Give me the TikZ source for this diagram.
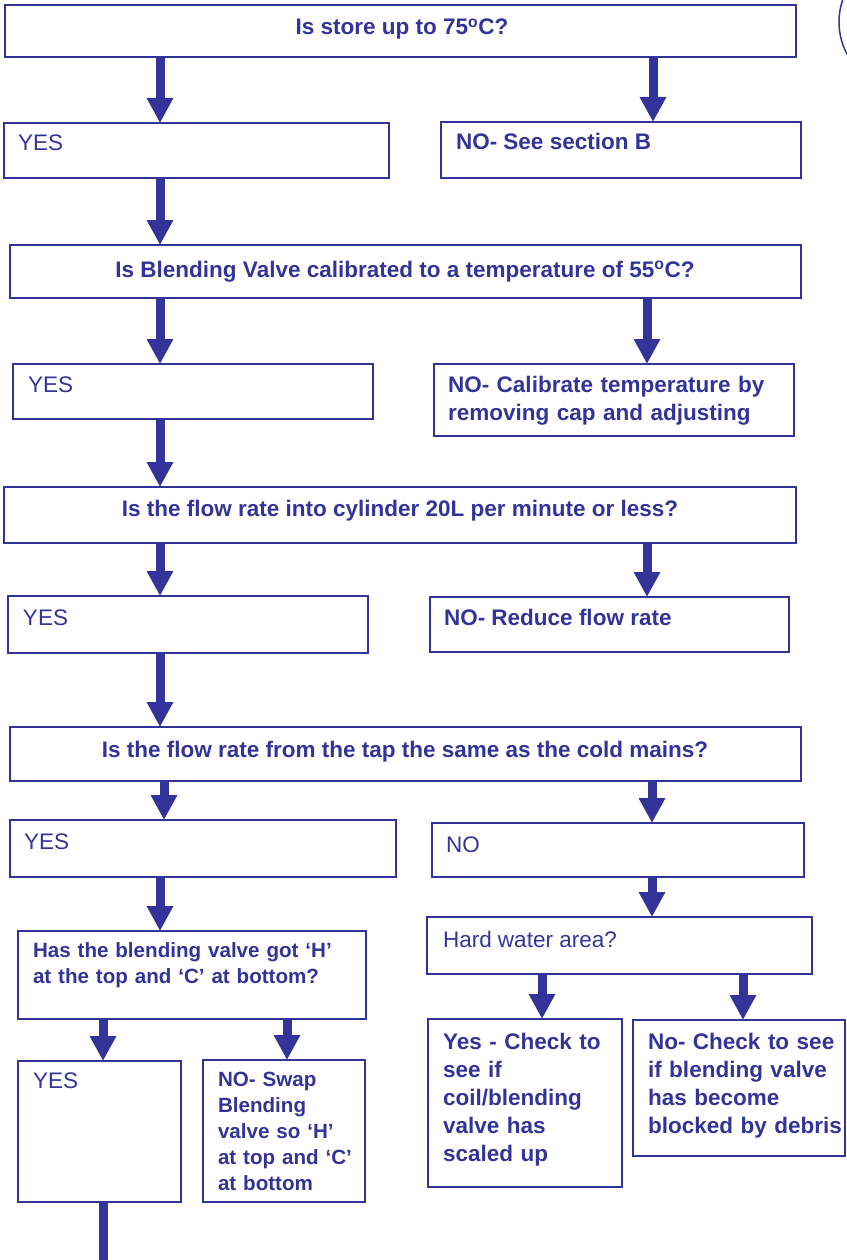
\documentclass[tikz,border=0pt]{standalone}
\usepackage{fontspec}
\setmainfont{Liberation Sans}
\usetikzlibrary{arrows.meta,calc}
\definecolor{dblue}{HTML}{333399}
\newcommand\myfs{\fontsize{22.5}{28}\selectfont}
\newcommand\fbx[5]{\node[box, minimum width={(#4-#2)*1pt}, minimum height={(#5-#3)*1pt}] (#1) at (#2,#3) {};}
\begin{document}
\begin{tikzpicture}[x=1pt,y=-1pt,
  box/.style={draw=dblue, line width=1.2pt, inner sep=0pt, outer sep=0pt, anchor=north west},
  txt/.style={text=dblue, inner sep=0pt, outer sep=0pt, anchor=base west, font=\myfs},
  btxt/.style={txt, font=\myfs\bfseries},
  ctxt/.style={txt, anchor=base, font=\myfs\bfseries},
  mtxt/.style={btxt, align=left, text width=#1},
  arr/.style={draw=dblue, line width=9pt, -{Triangle[length=25pt,width=25pt]}},
  shaft/.style={draw=dblue, line width=9pt}]
\useasboundingbox (0,0) rectangle (846,1260);
% boxes
\fbx{b1}{5}{5}{796}{57}
\fbx{yes1}{4}{123}{389}{178}
\fbx{no1}{441}{122}{801}{178}
\fbx{b2}{10}{245}{801}{298}
\fbx{yes2}{13}{364}{373}{419}
\fbx{no2}{434}{364}{794}{436}
\fbx{b3}{4}{487}{796}{543}
\fbx{yes3}{8}{596}{368}{653}
\fbx{no3}{430}{597}{789}{652}
\fbx{b4}{10}{727}{801}{781}
\fbx{yes4}{10}{820}{396}{877}
\fbx{no4}{432}{823}{804}{877}
\fbx{q5}{18}{931}{366}{1019}
\fbx{hard}{427}{917}{812}{974}
\fbx{yes5}{18}{1061}{181}{1202}
\fbx{no5}{203}{1060}{365}{1202}
\fbx{ycheck}{428}{1019}{622}{1187}
\fbx{ncheck}{633}{1020}{845}{1156}
% texts
\node[ctxt] (t1) at (402,35) {Is store up to 75\textsuperscript{o}C?};
\node[txt] (t1y) at (18,151) {YES};
\node[btxt] (t1n) at (456,150) {NO- See section B};
\node[ctxt] (t2) at (405,277) {Is Blending Valve calibrated to a temperature of 55\textsuperscript{o}C?};
\node[txt] (t2y) at (28,392) {YES};
\node[mtxt=350pt] (t2n) at (448,392) {NO- Calibrate temperature by\\removing cap and adjusting};
\node[ctxt] (t3) at (400,516) {Is the flow rate into cylinder 20L per minute or less?};
\node[txt] (t3y) at (23,625) {YES};
\node[btxt] (t3n) at (444,625) {NO- Reduce flow rate};
\node[ctxt] (t4) at (405,757) {Is the flow rate from the tap the same as the cold mains?};
\node[txt] (t4y) at (24,849) {YES};
\node[txt] (t4n) at (446,852) {NO};
\node[mtxt=340pt, font=\fontsize{20.6}{26}\selectfont\bfseries] (t5) at (33,957) {Has the blending valve got ‘H’\\at the top and ‘C’ at bottom?};
\node[txt] (th) at (443,947) {Hard water area?};
\node[txt] (t5y) at (33,1088) {YES};
\node[mtxt=160pt, font=\fontsize{20.6}{26}\selectfont\bfseries] (t5n) at (218,1086) {NO- Swap\\Blending\\valve so ‘H’\\at top and ‘C’\\at bottom};
\node[mtxt=190pt] (tyc) at (443,1049) {Yes - Check to\\see if\\coil/blending\\valve has\\scaled up};
\node[mtxt=210pt] (tnc) at (648,1049) {No- Check to see\\if blending valve\\has become\\blocked by debris};
% arrow columns
\coordinate (c160) at (160,0);
\coordinate (c653) at (653,0);
\coordinate (c647) at (647,0);
\coordinate (c164) at (164,0);
\coordinate (c652) at (652,0);
\coordinate (c103) at (103,0);
\coordinate (c287) at (287,0);
\coordinate (c542) at (542,0);
\coordinate (c743) at (743,0);
\coordinate (bend) at (103,1275);
% arrows
\draw[arr] (b1.south -| c160) -- (yes1.north -| c160);
\draw[arr] (b1.south -| c653) -- (no1.north -| c653);
\draw[arr] (yes1.south -| c160) -- (b2.north -| c160);
\draw[arr] (b2.south -| c160) -- (yes2.north -| c160);
\draw[arr] (b2.south -| c647) -- (no2.north -| c647);
\draw[arr] (yes2.south -| c160) -- (b3.north -| c160);
\draw[arr] (b3.south -| c160) -- (yes3.north -| c160);
\draw[arr] (b3.south -| c647) -- (no3.north -| c647);
\draw[arr] (yes3.south -| c160) -- (b4.north -| c160);
\draw[arr] (b4.south -| c164) -- (yes4.north -| c164);
\draw[arr] (b4.south -| c652) -- (no4.north -| c652);
\draw[arr] (yes4.south -| c160) -- (q5.north -| c160);
\draw[arr] (no4.south -| c652) -- (hard.north -| c652);
\draw[arr] (q5.south -| c103) -- (yes5.north -| c103);
\draw[arr] (q5.south -| c287) -- (no5.north -| c287);
\draw[arr] (hard.south -| c542) -- (ycheck.north -| c542);
\draw[arr] (hard.south -| c743) -- (ncheck.north -| c743);
\draw[shaft] (yes5.south -| bend) -- (bend);
% partial circle at top right
\draw[dblue, line width=1.5pt] (907,22) circle (68);
\end{tikzpicture}
\end{document}
